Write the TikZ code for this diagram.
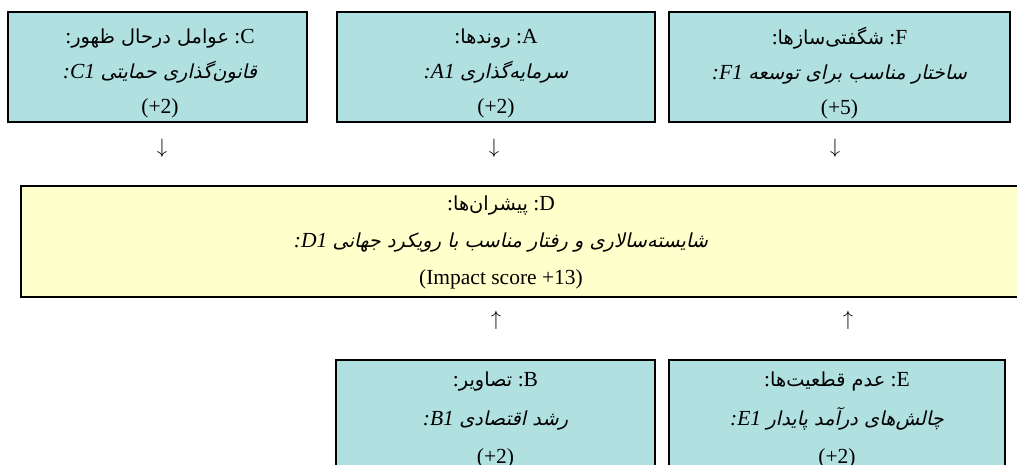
\documentclass[tikz,border=0pt]{standalone}
\usepackage{fontspec}
\setmainfont{Liberation Serif}
\newfontfamily\fa[Script=Arabic,Scale=0.9]{DejaVu Sans}
\newfontfamily\faIt[Script=Arabic,Scale=0.9,FakeSlant=0.22]{DejaVu Sans}
\TeXXeTstate=1
\definecolor{boxblue}{RGB}{176,224,224}
\definecolor{boxyellow}{RGB}{255,255,204}
\begin{document}
\begin{tikzpicture}[x=1pt,y=-1pt,
  bluebox/.style={draw=black,line width=2.2pt,fill=boxblue,rectangle,inner sep=0pt},
  yellowbox/.style={draw=black,line width=2.2pt,fill=boxyellow,rectangle,inner sep=0pt},
  txt/.style={align=center,inner sep=0pt,font=\fontsize{21.5}{35}\selectfont},
  txtd/.style={align=center,inner sep=0pt,font=\fontsize{21.5}{37}\selectfont},
  txtb/.style={align=center,inner sep=0pt,font=\fontsize{21.5}{38.5}\selectfont},
  arr/.style={inner sep=0pt,font=\fontsize{20}{24}\selectfont}]
\useasboundingbox (0,0) rectangle (1017,464);
\clip (0,0) rectangle (1017,464);
% top row
\node[bluebox,minimum width=299,minimum height=110] (C) at (157.5,67) {};
\node[bluebox,minimum width=318,minimum height=110] (A) at (496,67) {};
\node[bluebox,minimum width=341,minimum height=110] (F) at (839.5,67) {};
% middle
\node[yellowbox,minimum width=1019,minimum height=111] (D) at (530.5,241.5) {};
% bottom
\node[bluebox,minimum width=319,minimum height=140] (B) at (495.5,430) {};
\node[bluebox,minimum width=336,minimum height=140] (E) at (837,430) {};
% texts
\node[txt] (Ct) at (160,73) {:{\fa\beginR عوامل درحال ظهور\endR} :C\\
  {\itshape :C1} {\faIt\beginR قانون‌گذاری حمایتی\endR}\\ (+2)};
\node[txt] (At) at (496,73) {:{\fa\beginR روندها\endR} :A\\
  {\itshape :A1} {\faIt\beginR سرمایه‌گذاری\endR}\\ (+2)};
\node[txt] (Ft) at (839.5,73) {:{\fa\beginR شگفتی‌سازها\endR} :F\\
  {\itshape :F1} {\faIt\beginR ساختار مناسب برای توسعه\endR}\\ (+5)};
\node[txtd] (Dt) at (501,242) {:{\fa\beginR پیشران‌ها\endR} :D\\
  {\itshape :D1} {\faIt\beginR شایسته‌سالاری و رفتار مناسب با رویکرد جهانی\endR}\\ (Impact score +13)};
\node[txtb] (Bt) at (495.5,420) {:{\fa\beginR تصاویر\endR} :B\\
  {\itshape :B1} {\faIt\beginR رشد اقتصادی\endR}\\ (+2)};
\node[txtb] (Et) at (837,420) {:{\fa\beginR عدم قطعیت‌ها\endR} :E\\
  {\itshape :E1} {\faIt\beginR چالش‌های درآمد پایدار\endR}\\ (+2)};
% arrows (glyphs)
\node[arr] (a1) at (162,148) {$\downarrow$};
\node[arr] (a2) at (494,148) {$\downarrow$};
\node[arr] (a3) at (835,148) {$\downarrow$};
\node[arr] (a4) at (496,320) {$\uparrow$};
\node[arr] (a5) at (848,320) {$\uparrow$};
\end{tikzpicture}
\end{document}
